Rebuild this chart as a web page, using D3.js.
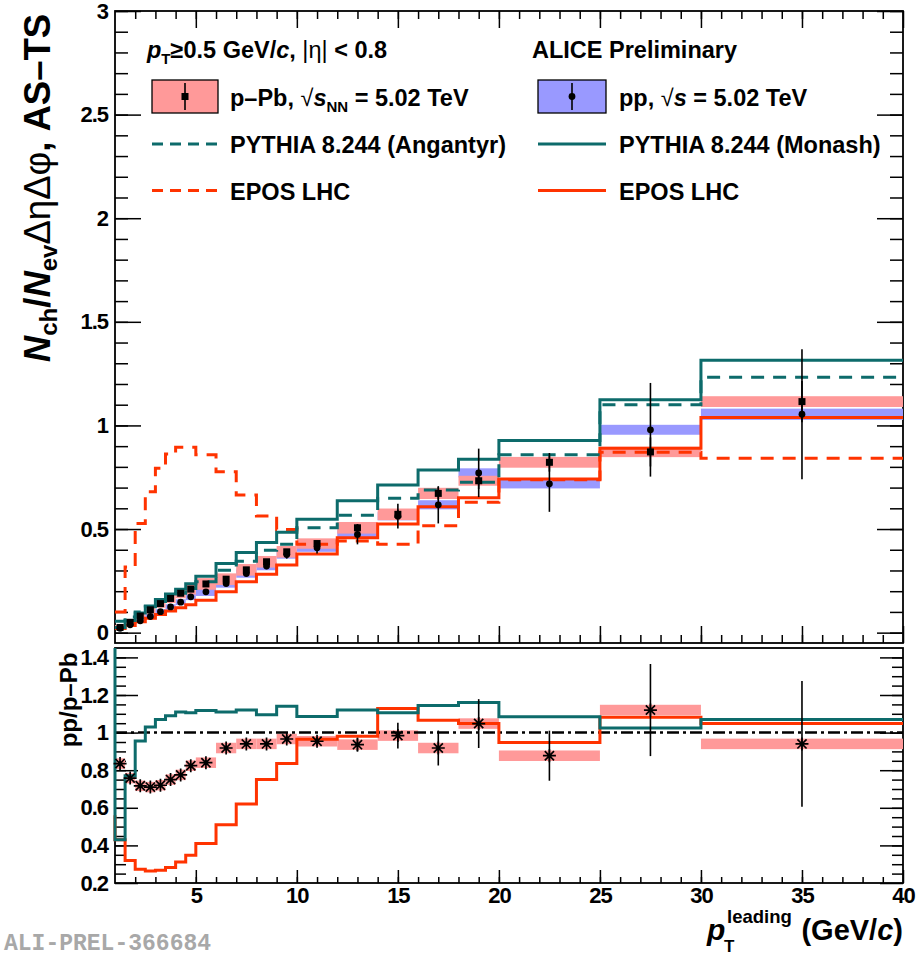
<!DOCTYPE html>
<html><head><meta charset="utf-8">
<script src="https://cdn.jsdelivr.net/npm/d3@7/dist/d3.min.js"></script>
<style>
body{margin:0;background:#fff}
svg{display:block}
text{font-family:"Liberation Sans",Arial,Helvetica,sans-serif;font-weight:bold}
</style>
</head><body>
<svg id="chart" width="921" height="958"></svg>
<script>
// ---------------- DATA ----------------
const binEdges = [1,1.5,2,2.5,3,3.5,4,4.5,5,6,7,8,9,10,12,14,16,18,20,25,30,40];

const pPbValues = [0.025,0.05,0.08,0.11,0.14,0.165,0.19,0.21,0.235,0.258,0.303,0.342,0.39,0.43,0.506,0.571,0.672,0.733,0.822,0.872,1.115];
const pPbStat   = [0.002,0.002,0.002,0.003,0.003,0.003,0.004,0.004,0.005,0.006,0.007,0.008,0.01,0.012,0.018,0.022,0.03,0.04,0.045,0.07,0.1];
const pPbSys    = [0.012,0.014,0.016,0.018,0.02,0.022,0.024,0.026,0.028,0.028,0.028,0.028,0.028,0.025,0.028,0.028,0.027,0.024,0.026,0.025,0.026];

const ppValues  = [0.021,0.038,0.057,0.078,0.101,0.124,0.147,0.173,0.197,0.237,0.285,0.321,0.377,0.41,0.474,0.562,0.617,0.771,0.718,0.979,1.054];
const ppStat    = [0.002,0.003,0.003,0.004,0.004,0.005,0.005,0.006,0.007,0.01,0.012,0.015,0.02,0.028,0.048,0.06,0.09,0.117,0.135,0.226,0.314];
const ppSys     = [0.008,0.009,0.01,0.011,0.012,0.013,0.014,0.016,0.02,0.02,0.02,0.02,0.02,0.02,0.02,0.02,0.022,0.022,0.022,0.024,0.027];

const pythiaAngantyr = [0.055,0.075,0.10,0.125,0.15,0.17,0.19,0.213,0.245,0.301,0.345,0.398,0.426,0.506,0.567,0.648,0.688,0.726,0.858,1.10,1.232];
const pythiaMonash   = [0.025,0.058,0.095,0.128,0.16,0.186,0.21,0.236,0.272,0.334,0.387,0.435,0.484,0.547,0.637,0.713,0.785,0.837,0.927,1.124,1.314];
const eposPPb        = [0.10,0.317,0.527,0.68,0.793,0.862,0.895,0.895,0.858,0.777,0.664,0.563,0.498,0.426,0.442,0.427,0.516,0.629,0.738,0.871,0.842];
const eposPP         = [0.02,0.035,0.052,0.07,0.088,0.105,0.12,0.135,0.156,0.197,0.245,0.282,0.326,0.379,0.458,0.524,0.608,0.651,0.742,0.89,1.038];

const ratioValues = [0.835,0.758,0.717,0.71,0.72,0.75,0.775,0.824,0.84,0.918,0.94,0.94,0.966,0.954,0.936,0.984,0.918,1.048,0.877,1.12,0.94];
const ratioStat   = [0.006,0.005,0.005,0.005,0.006,0.006,0.007,0.008,0.01,0.012,0.014,0.016,0.02,0.022,0.037,0.069,0.093,0.13,0.133,0.245,0.334];
const ratioSys    = [0.028,0.028,0.028,0.028,0.028,0.028,0.028,0.028,0.028,0.028,0.028,0.028,0.028,0.028,0.028,0.028,0.028,0.028,0.028,0.028,0.028];
const ratioPythia = [0.43,0.77,0.955,1.03,1.07,1.09,1.11,1.105,1.117,1.11,1.12,1.095,1.14,1.085,1.12,1.105,1.144,1.16,1.084,1.025,1.07];
const ratioEpos   = [0.43,0.32,0.273,0.264,0.268,0.282,0.312,0.348,0.41,0.51,0.62,0.75,0.835,0.965,0.98,1.128,1.066,1.048,0.948,1.082,1.048];
// value of the 0.5-1 GeV/c bin (outside the frame, seen only as the connector at x=1)
const ratioPythiaBelowRange = 1.6;
const ratioEposBelowRange   = 0.56;

const xTickValues  = [5,10,15,20,25,30,35,40];
const xTickLabels  = ["5","10","15","20","25","30","35","40"];
const upperYTicks  = [0,0.5,1,1.5,2,2.5,3];
const upperYLabels = ["0","0.5","1","1.5","2","2.5","3"];
const lowerYTicks  = [0.2,0.4,0.6,0.8,1,1.2,1.4];
const lowerYLabels = ["0.2","0.4","0.6","0.8","1","1.2","1.4"];

// ---------------- STYLE ----------------
const TEAL = "#0d6b6b", ORANGE = "#ff3300", PINK = "#ff9999", BLUE = "#9999ff";
const svg = d3.select("#chart");

const x = d3.scaleLinear().domain([1,40]).range([115,903]);
const yTop = d3.scaleLinear().domain([-0.05,3]).range([643,11]);
const yBot = d3.scaleLinear().domain([0.2,1.45]).range([883,648]);

const bins = d3.range(binEdges.length-1).map(i => ({lo:binEdges[i], hi:binEdges[i+1], c:(binEdges[i]+binEdges[i+1])/2, i}));

// clip paths
const defs = svg.append("defs");
defs.append("clipPath").attr("id","clipTop").append("rect").attr("x",113).attr("y",11).attr("width",790).attr("height",632);
defs.append("clipPath").attr("id","clipBot").append("rect").attr("x",113).attr("y",648).attr("width",790).attr("height",235);

// ---------------- AXES ----------------
function styleAxis(g){
  g.select(".domain").remove();
  g.selectAll(".tick line").attr("stroke","#000").attr("stroke-width",1.5);
  g.attr("font-family",null).attr("font-size",22);
  g.selectAll(".tick text").attr("fill","#000").style("letter-spacing","-1px");
}
function axis(gen, tx, ty){
  const g = svg.append("g").attr("transform",`translate(${tx},${ty})`).call(gen);
  styleAxis(g);
  return g;
}
// upper panel
axis(d3.axisLeft(yTop).tickValues(upperYTicks).tickSize(-26).tickPadding(7).tickFormat((d,i)=>upperYLabels[i]), 115, 0);
axis(d3.axisLeft(yTop).tickValues(d3.range(0,3.0001,0.1)).tickSize(-13).tickFormat(""), 115, 0);
axis(d3.axisRight(yTop).tickValues(upperYTicks).tickSize(-26).tickFormat(""), 903, 0);
axis(d3.axisRight(yTop).tickValues(d3.range(0,3.0001,0.1)).tickSize(-13).tickFormat(""), 903, 0);
axis(d3.axisBottom(x).tickValues(xTickValues).tickSize(-17).tickFormat(""), 0, 643);
axis(d3.axisBottom(x).tickValues(d3.range(2,40,1)).tickSize(-8).tickFormat(""), 0, 643);
axis(d3.axisTop(x).tickValues(xTickValues).tickSize(-17).tickFormat(""), 0, 11);
axis(d3.axisTop(x).tickValues(d3.range(2,40,1)).tickSize(-8).tickFormat(""), 0, 11);
// lower panel
axis(d3.axisLeft(yBot).tickValues(lowerYTicks).tickSize(-23).tickPadding(7).tickFormat((d,i)=>lowerYLabels[i]), 115, 0);
axis(d3.axisLeft(yBot).tickValues(d3.range(0.25,1.45,0.05)).tickSize(-11).tickFormat(""), 115, 0);
axis(d3.axisRight(yBot).tickValues(lowerYTicks).tickSize(-23).tickFormat(""), 903, 0);
axis(d3.axisRight(yBot).tickValues(d3.range(0.25,1.45,0.05)).tickSize(-11).tickFormat(""), 903, 0);
axis(d3.axisBottom(x).tickValues(xTickValues).tickSize(-13).tickPadding(4).tickFormat((d,i)=>xTickLabels[i]), 0, 883);
axis(d3.axisBottom(x).tickValues(d3.range(2,40,1)).tickSize(-6).tickFormat(""), 0, 883);

// frames
svg.append("rect").attr("x",115).attr("y",11).attr("width",788).attr("height",632).attr("fill","none").attr("stroke","#000").attr("stroke-width",1.8);
svg.append("rect").attr("x",115).attr("y",648).attr("width",788).attr("height",235).attr("fill","none").attr("stroke","#000").attr("stroke-width",1.8);

// ---------------- HELPERS ----------------
function stepPoints(vals, below){
  const pts = [];
  if (below !== undefined) pts.push([binEdges[0], below]);
  vals.forEach((v,i)=>{ pts.push([binEdges[i],v]); pts.push([binEdges[i+1],v]); });
  return pts;
}
function drawStep(g, yS, vals, color, dash, below){
  const line = d3.line().x(d=>x(d[0])).y(d=>yS(d[1]));
  g.append("path").attr("d", line(stepPoints(vals, below))).attr("fill","none")
    .attr("stroke",color).attr("stroke-width",3).attr("stroke-dasharray",dash||null).attr("stroke-linejoin","miter");
}
function drawBoxes(g, yS, vals, sys, color){
  g.selectAll(null).data(bins).enter().append("rect")
    .attr("x",d=>x(d.lo)).attr("width",d=>x(d.hi)-x(d.lo))
    .attr("y",d=>yS(vals[d.i]+sys[d.i])).attr("height",d=>yS(vals[d.i]-sys[d.i])-yS(vals[d.i]+sys[d.i]))
    .attr("fill",color);
}
function drawErrs(g, yS, vals, err){
  g.selectAll(null).data(bins).enter().append("line")
    .attr("x1",d=>x(d.c)).attr("x2",d=>x(d.c))
    .attr("y1",d=>yS(vals[d.i]-err[d.i])).attr("y2",d=>yS(vals[d.i]+err[d.i]))
    .attr("stroke","#000").attr("stroke-width",1.6);
}

// ---------------- UPPER PANEL ----------------
const gTop = svg.append("g").attr("clip-path","url(#clipTop)");
drawBoxes(gTop, yTop, ppValues, ppSys, BLUE);
drawBoxes(gTop, yTop, pPbValues, pPbSys, PINK);
drawStep(gTop, yTop, eposPPb, ORANGE, "13,9");
drawStep(gTop, yTop, eposPP, ORANGE);
drawStep(gTop, yTop, pythiaAngantyr, TEAL, "13,9");
drawStep(gTop, yTop, pythiaMonash, TEAL);
drawErrs(gTop, yTop, ppValues, ppStat);
drawErrs(gTop, yTop, pPbValues, pPbStat);
gTop.selectAll(null).data(bins).enter().append("circle")
  .attr("cx",d=>x(d.c)).attr("cy",d=>yTop(ppValues[d.i])).attr("r",3.4).attr("fill","#000");
gTop.selectAll(null).data(bins).enter().append("rect")
  .attr("x",d=>x(d.c)-3.5).attr("y",d=>yTop(pPbValues[d.i])-3.5).attr("width",7).attr("height",7).attr("fill","#000");

// ---------------- LOWER PANEL ----------------
const gBot = svg.append("g").attr("clip-path","url(#clipBot)");
drawBoxes(gBot, yBot, ratioValues, ratioSys, PINK);
gBot.append("line").attr("x1",x(1)).attr("x2",x(40)).attr("y1",yBot(1)).attr("y2",yBot(1))
  .attr("stroke","#000").attr("stroke-width",2.5).attr("stroke-dasharray","12,4,3,4");
drawStep(gBot, yBot, ratioEpos, ORANGE, null, ratioEposBelowRange);
drawStep(gBot, yBot, ratioPythia, TEAL, null, ratioPythiaBelowRange);
drawErrs(gBot, yBot, ratioValues, ratioStat);
const star = "M-6.5,0H6.5M0,-6.5V6.5M-4.6,-4.6L4.6,4.6M-4.6,4.6L4.6,-4.6";
gBot.selectAll(null).data(bins).enter().append("path")
  .attr("transform",d=>`translate(${x(d.c)},${yBot(ratioValues[d.i])})`)
  .attr("d",star).attr("stroke","#000").attr("stroke-width",1.7).attr("fill","none");

// ---------------- LEGEND ----------------
const L = svg.append("g").attr("font-size",23.5);
const t1 = L.append("text").attr("x",147).attr("y",58);
t1.append("tspan").attr("font-style","italic").text("p");
t1.append("tspan").attr("font-size",15).attr("dy",6).text("T");
t1.append("tspan").attr("dy",-6).text("≥0.5 GeV/");
t1.append("tspan").attr("font-style","italic").text("c");
t1.append("tspan").text(", ");
t1.append("tspan").attr("font-weight","normal").text("|η|");
t1.append("tspan").text(" < 0.8");
L.append("text").attr("x",532).attr("y",58).text("ALICE Preliminary");

// p-Pb entry
L.append("rect").attr("x",152).attr("y",80).attr("width",66).attr("height",33).attr("fill",PINK).attr("stroke","#000").attr("stroke-width",1.3);
L.append("line").attr("x1",185).attr("x2",185).attr("y1",83).attr("y2",110).attr("stroke","#000").attr("stroke-width",1.6);
L.append("rect").attr("x",181.5).attr("y",93).attr("width",7).attr("height",7).attr("fill","#000");
const t2 = L.append("text").attr("x",230).attr("y",106);
t2.append("tspan").text("p–Pb, ");
t2.append("tspan").attr("font-weight","normal").text("√");
t2.append("tspan").attr("font-style","italic").text("s");
t2.append("tspan").attr("font-size",15).attr("dy",6).text("NN");
t2.append("tspan").attr("dy",-6).text(" = 5.02 TeV");

// pp entry
L.append("rect").attr("x",538).attr("y",80).attr("width",68).attr("height",33).attr("fill",BLUE).attr("stroke","#000").attr("stroke-width",1.3);
L.append("line").attr("x1",572).attr("x2",572).attr("y1",83).attr("y2",110).attr("stroke","#000").attr("stroke-width",1.6);
L.append("circle").attr("cx",572).attr("cy",96.5).attr("r",3.4).attr("fill","#000");
const t3 = L.append("text").attr("x",619).attr("y",106);
t3.append("tspan").text("pp,  ");
t3.append("tspan").attr("font-weight","normal").text("√");
t3.append("tspan").attr("font-style","italic").text("s");
t3.append("tspan").text(" = 5.02 TeV");

// model entries
L.append("line").attr("x1",152).attr("x2",218).attr("y1",144).attr("y2",144).attr("stroke",TEAL).attr("stroke-width",3).attr("stroke-dasharray","11,7");
L.append("text").attr("x",230).attr("y",153).text("PYTHIA 8.244 (Angantyr)");
L.append("line").attr("x1",152).attr("x2",218).attr("y1",190.5).attr("y2",190.5).attr("stroke",ORANGE).attr("stroke-width",3).attr("stroke-dasharray","11,7");
L.append("text").attr("x",230).attr("y",199.5).text("EPOS LHC");
L.append("line").attr("x1",538).attr("x2",606).attr("y1",144).attr("y2",144).attr("stroke",TEAL).attr("stroke-width",3);
L.append("text").attr("x",619).attr("y",153).text("PYTHIA 8.244 (Monash)");
L.append("line").attr("x1",538).attr("x2",606).attr("y1",190.5).attr("y2",190.5).attr("stroke",ORANGE).attr("stroke-width",3);
L.append("text").attr("x",619).attr("y",199.5).text("EPOS LHC");

// ---------------- AXIS TITLES ----------------
const yt = svg.append("g").attr("transform","translate(50,188) rotate(-90)").append("text")
  .attr("text-anchor","middle").attr("font-size",36.5);
yt.append("tspan").attr("font-style","italic").text("N");
yt.append("tspan").attr("font-size",24).attr("dy",7).text("ch");
yt.append("tspan").attr("dy",-7).text("/");
yt.append("tspan").attr("font-style","italic").text("N");
yt.append("tspan").attr("font-size",24).attr("dy",7).text("ev");
yt.append("tspan").attr("dy",-7).attr("font-weight","normal").text("ΔηΔφ");
yt.append("tspan").text(", AS–TS");

svg.append("g").attr("transform","translate(77,700) rotate(-90)").append("text")
  .attr("text-anchor","middle").attr("font-size",24).text("pp/p–Pb");

svg.append("text").attr("x",707).attr("y",940).attr("font-size",30).attr("font-style","italic").text("p");
svg.append("text").attr("x",724).attr("y",952).attr("font-size",17).text("T");
svg.append("text").attr("x",727).attr("y",923).attr("font-size",18.5).text("leading");
const xt = svg.append("text").attr("x",903).attr("y",940).attr("font-size",29).attr("text-anchor","end");
xt.append("tspan").text("(GeV/");
xt.append("tspan").attr("font-style","italic").text("c");
xt.append("tspan").text(")");

svg.append("text").attr("x",4).attr("y",950).attr("font-size",23)
  .style("font-family","'Liberation Mono','Courier New',monospace").style("font-weight","bold")
  .attr("fill","#a8a8a8").text("ALI-PREL-366684");
</script>
</body></html>
